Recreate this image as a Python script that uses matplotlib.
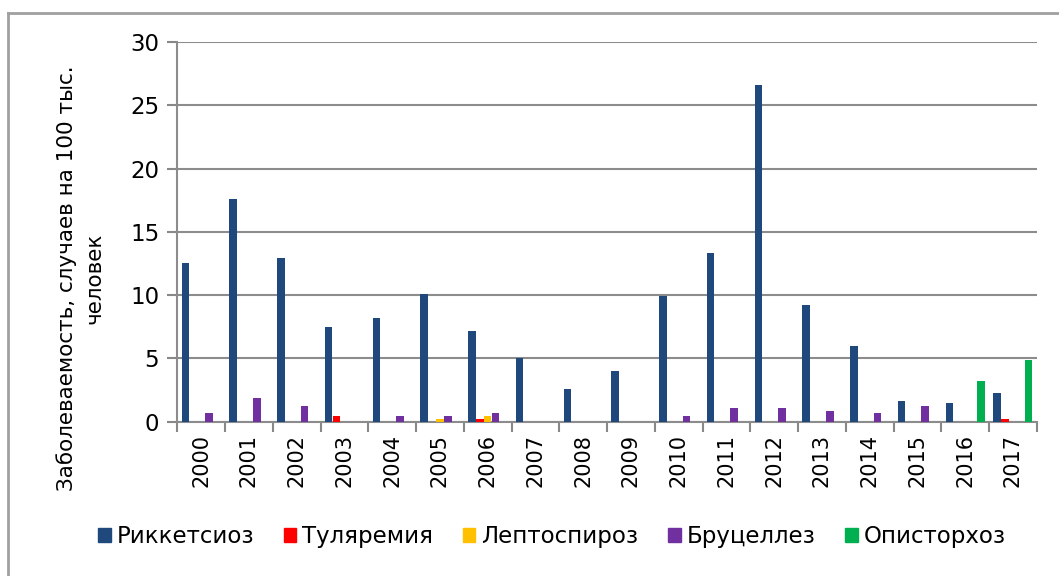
import numpy as np
import matplotlib
matplotlib.use('Agg')
import matplotlib.pyplot as plt
from matplotlib.lines import Line2D

years = [str(y) for y in range(2000, 2018)]
series_names = ['Риккетсиоз', 'Туляремия', 'Лептоспироз', 'Бруцеллез', 'Описторхоз']
colors = ['#1F497D', '#FF0000', '#FFC000', '#7030A0', '#00B050']

rickettsiosis = [12.5, 17.6, 12.9, 7.45, 8.2, 10.1, 7.2, 5.0, 2.6, 4.0,
                 9.9, 13.35, 26.6, 9.2, 5.95, 1.65, 1.45, 2.25]
tularemia = [0, 0, 0, 0.44, 0, 0, 0.23, 0, 0, 0,
             0, 0, 0, 0, 0, 0, 0, 0.2]
leptospirosis = [0, 0, 0, 0, 0, 0.2, 0.41, 0, 0, 0,
                 0, 0, 0, 0, 0, 0, 0, 0]
brucellosis = [0.65, 1.84, 1.24, 0, 0.41, 0.41, 0.65, 0, 0, 0,
               0.41, 1.04, 1.04, 0.83, 0.65, 1.24, 0, 0]
opisthorchiasis = [0, 0, 0, 0, 0, 0, 0, 0, 0, 0,
                   0, 0, 0, 0, 0, 0, 3.2, 4.9]

all_series = [rickettsiosis, tularemia, leptospirosis, brucellosis, opisthorchiasis]

plt.rcParams['font.family'] = ['DejaVu Sans']
fig = plt.figure(figsize=(10.59, 5.76), dpi=100)
ax = fig.add_axes([0.1674, 0.268, 0.8116, 0.659])

x = np.arange(len(years))
step = 0.165
for i, (vals, c) in enumerate(zip(all_series, colors)):
    ax.bar(x + (i - 2) * step, vals, width=0.16, color=c, zorder=3,
           label=series_names[i])

ax.set_xlim(-0.5, len(years) - 0.5)
ax.set_ylim(0, 30)
ax.set_yticks(range(0, 31, 5))
ax.set_xticks(x)
ax.set_xticklabels(years, rotation=90, fontsize=15)
ax.set_xticks(np.arange(-0.5, len(years)), minor=True)
ax.tick_params(axis='x', which='major', length=0, pad=9)
ax.tick_params(axis='x', which='minor', length=7, color='#888888', width=1.5)
ax.tick_params(axis='y', length=7, color='#888888', width=1.5, labelsize=16.5, pad=6)

ax.grid(axis='y', color='#8c8c8c', linewidth=1.5, zorder=0)
for s in ['top', 'right']:
    ax.spines[s].set_visible(False)
for s in ['left', 'bottom']:
    ax.spines[s].set_color('#8c8c8c')
    ax.spines[s].set_linewidth(1.5)

# y label sits lower than the axes centre in the original
fig.text(80 / 1059, 1 - 278 / 576, 'Заболеваемость, случаев на 100 тыс.\nчеловек',
         rotation=90, ha='center', va='center', fontsize=15.5, linespacing=1.45,
         multialignment='center')

handles = [plt.Rectangle((0, 0), 1, 1, color=c) for c in colors]
fig.legend(handles, series_names, loc='center', bbox_to_anchor=(0.521, 0.068),
           ncol=5, frameon=False, fontsize=16.5, handlelength=0.55,
           handleheight=0.55, handletextpad=0.25, columnspacing=1.3)

# outer chart frame (top and left visible)
fig.add_artist(Line2D([8 / 1059, 8 / 1059], [0, 1 - 13 / 576],
                      transform=fig.transFigure, color='#a0a0a0', linewidth=2))
fig.add_artist(Line2D([8 / 1059, 1], [1 - 13 / 576, 1 - 13 / 576],
                      transform=fig.transFigure, color='#a0a0a0', linewidth=2))

fig.savefig('out.png', dpi=100)
